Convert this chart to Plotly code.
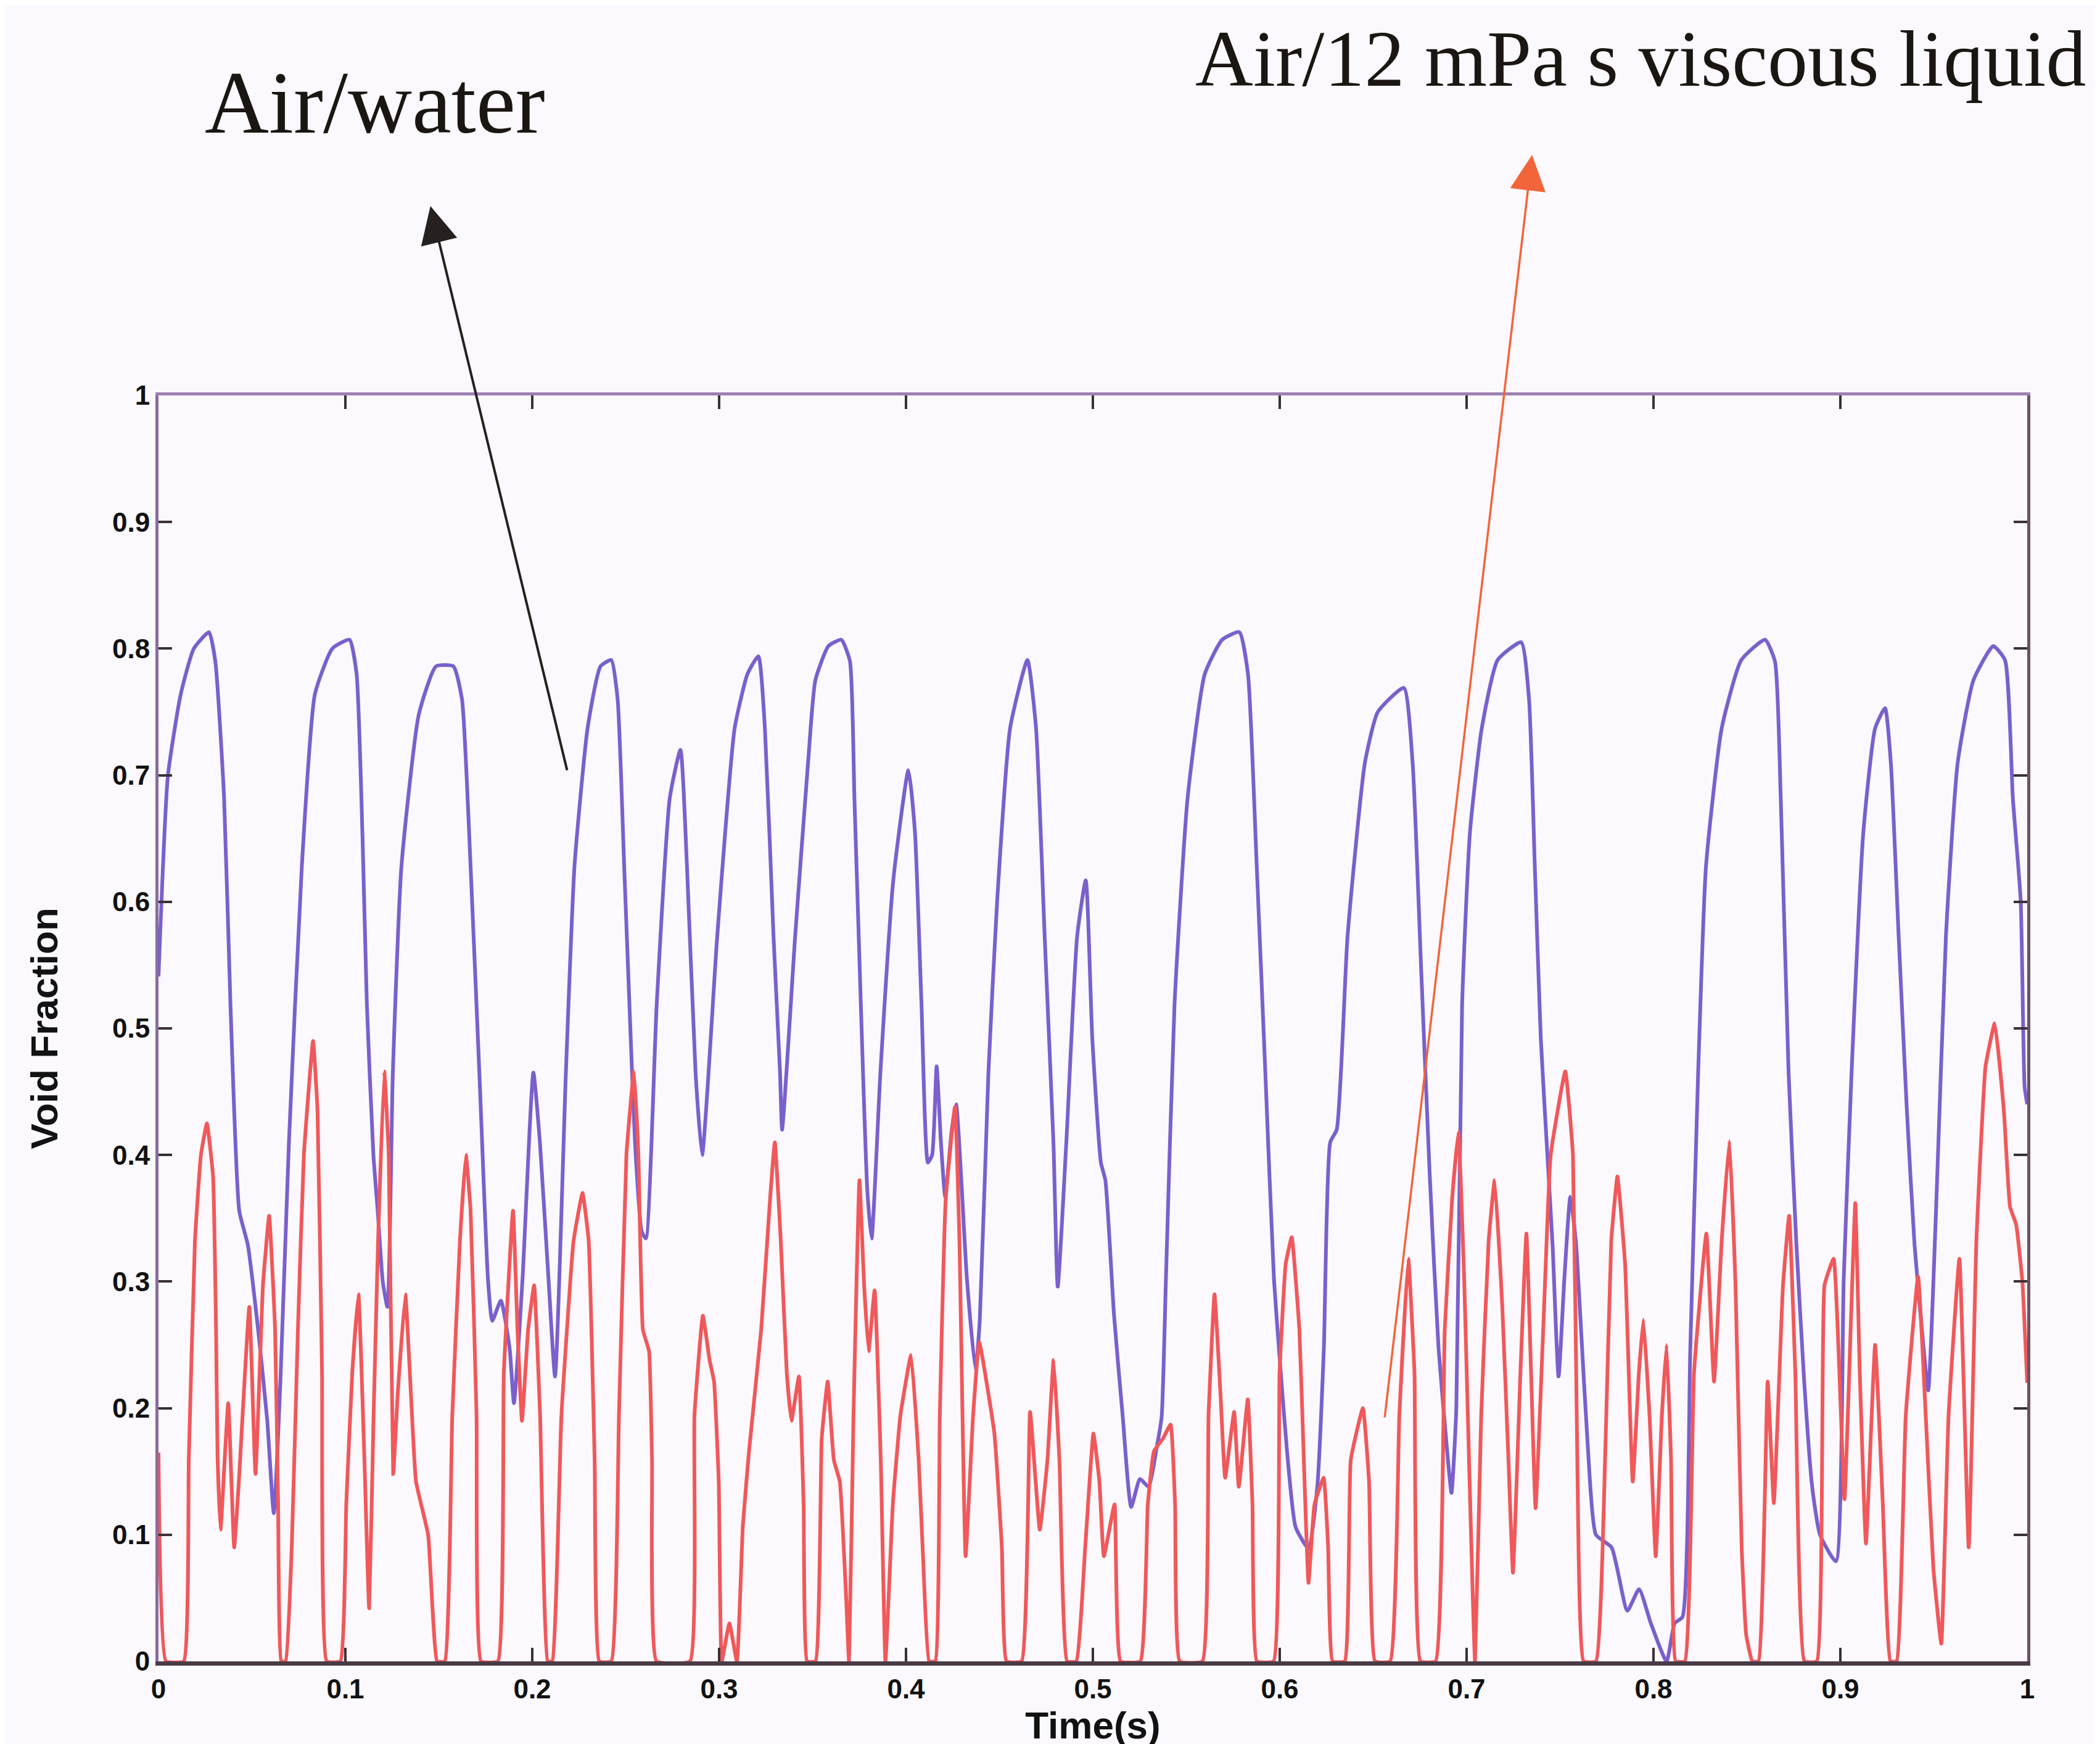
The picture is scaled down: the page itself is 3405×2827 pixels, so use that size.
import plotly.graph_objects as go

# ---------------- data ----------------
# Air/water void fraction trace (time s, void fraction)
water_t = [0.0, 0.005, 0.0119, 0.0189, 0.027, 0.0304, 0.0351, 0.0385, 0.0432, 0.0478,
           0.0536, 0.0582, 0.0617, 0.0652, 0.0698, 0.0767, 0.0837, 0.093, 0.1022, 0.106,
           0.1092, 0.1115, 0.115, 0.1173, 0.12, 0.1225, 0.1254, 0.13, 0.1393, 0.1485,
           0.1578, 0.1624, 0.167, 0.1717, 0.1763, 0.1786, 0.1832, 0.1879, 0.1902, 0.1948,
           0.2006, 0.2041, 0.2087, 0.2122, 0.218, 0.2226, 0.2296, 0.2365, 0.2423, 0.2457,
           0.2492, 0.2527, 0.255, 0.2585, 0.2608, 0.2666, 0.2736, 0.2793, 0.2828, 0.2874,
           0.2909, 0.299, 0.3083, 0.3152, 0.321, 0.3245, 0.3291, 0.3326, 0.3337, 0.3407,
           0.3476, 0.3515, 0.3585, 0.3654, 0.37, 0.3724, 0.3747, 0.377, 0.3793, 0.3816,
           0.3863, 0.3932, 0.4013, 0.4048, 0.4083, 0.4117, 0.414, 0.4164, 0.4187, 0.421,
           0.4245, 0.4268, 0.4326, 0.4372, 0.4395, 0.4441, 0.4488, 0.4557, 0.465, 0.4696,
           0.4742, 0.4789, 0.4812, 0.4858, 0.4916, 0.4962, 0.4997, 0.5043, 0.5067, 0.5113,
           0.516, 0.5205, 0.5252, 0.5298, 0.5344, 0.5368, 0.5391, 0.5437, 0.5507, 0.5599,
           0.5692, 0.5784, 0.583, 0.5877, 0.5923, 0.5969, 0.6004, 0.6039, 0.6085, 0.6155,
           0.6201, 0.6236, 0.627, 0.6305, 0.6363, 0.6456, 0.6525, 0.6664, 0.6711, 0.6757,
           0.6803, 0.685, 0.6896, 0.6919, 0.6945, 0.6976, 0.7018, 0.7081, 0.7166, 0.7292,
           0.7334, 0.7365, 0.7397, 0.7439, 0.746, 0.7492, 0.7523, 0.7555, 0.7586, 0.7608,
           0.765, 0.7692, 0.7776, 0.786, 0.7923, 0.7986, 0.807, 0.8113, 0.8155, 0.8197,
           0.8239, 0.8281, 0.8365, 0.847, 0.8597, 0.865, 0.8681, 0.8723, 0.8765, 0.8807,
           0.8849, 0.8891, 0.8976, 0.9018, 0.906, 0.9123, 0.9186, 0.9239, 0.927, 0.9312,
           0.9355, 0.9397, 0.9439, 0.947, 0.9512, 0.9565, 0.9628, 0.9712, 0.9818, 0.9881,
           0.9923, 0.9965, 0.9986, 1.0]
water_v = [0.541, 0.699, 0.764, 0.80, 0.813, 0.79, 0.682, 0.519, 0.356, 0.329,
           0.258, 0.19, 0.117, 0.22, 0.41, 0.628, 0.764, 0.80, 0.807, 0.78,
           0.65, 0.519, 0.40, 0.356, 0.30, 0.28, 0.465, 0.628, 0.748, 0.786,
           0.786, 0.76, 0.628, 0.465, 0.302, 0.269, 0.285, 0.247, 0.204, 0.302,
           0.465, 0.41, 0.302, 0.225, 0.465, 0.628, 0.737, 0.786, 0.791, 0.76,
           0.628, 0.492, 0.41, 0.34, 0.334, 0.519, 0.682, 0.72, 0.628, 0.465,
           0.40, 0.573, 0.737, 0.78, 0.794, 0.737, 0.573, 0.465, 0.42, 0.573,
           0.71, 0.775, 0.802, 0.807, 0.79, 0.682, 0.573, 0.465, 0.372, 0.334,
           0.465, 0.617, 0.704, 0.655, 0.519, 0.394, 0.40, 0.47, 0.41, 0.367,
           0.42, 0.44, 0.302, 0.23, 0.27, 0.465, 0.601, 0.737, 0.791, 0.737,
           0.573, 0.41, 0.296, 0.41, 0.573, 0.617, 0.492, 0.394, 0.38, 0.274,
           0.193, 0.122, 0.144, 0.138, 0.171, 0.193, 0.302, 0.519, 0.682, 0.78,
           0.807, 0.813, 0.78, 0.628, 0.465, 0.302, 0.231, 0.166, 0.106, 0.089,
           0.138, 0.247, 0.41, 0.42, 0.573, 0.71, 0.75, 0.769, 0.71, 0.546,
           0.383, 0.247, 0.166, 0.133, 0.20, 0.519, 0.655, 0.737, 0.791, 0.805,
           0.76, 0.628, 0.492, 0.383, 0.329, 0.225, 0.302, 0.367, 0.329, 0.274,
           0.166, 0.10, 0.09, 0.04, 0.057, 0.03, 0.0, 0.03, 0.035, 0.247,
           0.465, 0.628, 0.737, 0.791, 0.807, 0.79, 0.682, 0.465, 0.329, 0.22,
           0.138, 0.10, 0.079, 0.302, 0.465, 0.655, 0.737, 0.753, 0.71, 0.573,
           0.438, 0.329, 0.258, 0.214, 0.356, 0.573, 0.71, 0.775, 0.802, 0.791,
           0.682, 0.601, 0.454, 0.44]

# Air/12 mPa s viscous liquid void fraction trace
visc_t = [0.0, 0.004, 0.0135, 0.0162, 0.0195, 0.0227, 0.0259, 0.0292, 0.0308, 0.0316,
          0.0332, 0.0373, 0.0405, 0.043, 0.0486, 0.0519, 0.0559, 0.0592, 0.0624, 0.064,
          0.0657, 0.068, 0.0713, 0.0746, 0.0778, 0.0827, 0.0851, 0.0875, 0.09, 0.0973,
          0.1005, 0.1037, 0.107, 0.1102, 0.1127, 0.1151, 0.1175, 0.1208, 0.1232, 0.1256,
          0.128, 0.1321, 0.1345, 0.1378, 0.1443, 0.1491, 0.1532, 0.1572, 0.1613, 0.1645,
          0.167, 0.1702, 0.1726, 0.1816, 0.1848, 0.1897, 0.1921, 0.1945, 0.1978, 0.201,
          0.2042, 0.2083, 0.2107, 0.2156, 0.2221, 0.2269, 0.2302, 0.2334, 0.2359, 0.2423,
          0.2464, 0.2504, 0.2544, 0.2568, 0.2592, 0.2625, 0.2641, 0.2665, 0.2844, 0.2868,
          0.2913, 0.2949, 0.2973, 0.2998, 0.3014, 0.3055, 0.3095, 0.3127, 0.316, 0.3225,
          0.3273, 0.3298, 0.333, 0.3362, 0.3387, 0.3427, 0.3452, 0.3471, 0.3516, 0.3549,
          0.3581, 0.3614, 0.3646, 0.3678, 0.3695, 0.3719, 0.3751, 0.3776, 0.38, 0.3832,
          0.3865, 0.389, 0.393, 0.397, 0.4027, 0.4068, 0.4092, 0.4124, 0.4157, 0.4181,
          0.4213, 0.4262, 0.4286, 0.4319, 0.4359, 0.4392, 0.4473, 0.4513, 0.4538, 0.4619,
          0.4664, 0.4716, 0.4757, 0.479, 0.4821, 0.4862, 0.4911, 0.4959, 0.5003, 0.5035,
          0.5059, 0.5116, 0.5148, 0.5254, 0.5294, 0.5327, 0.5375, 0.5416, 0.544, 0.5465,
          0.5586, 0.5619, 0.5651, 0.5683, 0.5708, 0.5756, 0.5781, 0.5829, 0.5854, 0.5878,
          0.5967, 0.5999, 0.6032, 0.6064, 0.6105, 0.6129, 0.6154, 0.6186, 0.6235, 0.6259,
          0.6283, 0.6348, 0.638, 0.6445, 0.6478, 0.651, 0.6591, 0.664, 0.6688, 0.6721,
          0.6753, 0.6834, 0.6883, 0.6923, 0.6956, 0.6988, 0.7013, 0.7045, 0.7078, 0.7118,
          0.715, 0.7191, 0.7224, 0.7248, 0.7288, 0.732, 0.7345, 0.7369, 0.741, 0.745,
          0.7528, 0.7569, 0.7593, 0.7626, 0.7692, 0.7741, 0.7774, 0.7807, 0.7848, 0.7889,
          0.7922, 0.7946, 0.7979, 0.8012, 0.8045, 0.807, 0.8094, 0.8119, 0.8168, 0.8217,
          0.8283, 0.8324, 0.8365, 0.8406, 0.8439, 0.8472, 0.8496, 0.8529, 0.8562, 0.8611,
          0.8644, 0.8693, 0.8726, 0.8759, 0.8808, 0.8874, 0.8915, 0.8964, 0.9022, 0.9055,
          0.908, 0.9104, 0.9137, 0.9186, 0.9227, 0.9268, 0.9301, 0.935, 0.9416, 0.9457,
          0.9498, 0.954, 0.9579, 0.9637, 0.9687, 0.9728, 0.9777, 0.9826, 0.9875, 0.9908,
          0.9941, 0.9974, 1.0]
visc_v = [0.165, 0.0, 0.0, 0.159, 0.332, 0.40, 0.425, 0.383, 0.262, 0.162,
          0.104, 0.204, 0.09, 0.142, 0.28, 0.148, 0.297, 0.352, 0.262, 0.125,
          0.0, 0.0, 0.09, 0.262, 0.40, 0.49, 0.435, 0.228, 0.0, 0.0,
          0.125, 0.228, 0.29, 0.159, 0.042, 0.194, 0.332, 0.466, 0.40, 0.148,
          0.211, 0.29, 0.228, 0.142, 0.10, 0.0, 0.0, 0.194, 0.332, 0.40,
          0.356, 0.194, 0.0, 0.0, 0.228, 0.356, 0.262, 0.19, 0.262, 0.297,
          0.194, 0.0, 0.0, 0.194, 0.332, 0.37, 0.332, 0.159, 0.0, 0.0,
          0.194, 0.40, 0.466, 0.40, 0.262, 0.245, 0.159, 0.0, 0.0, 0.194,
          0.273, 0.238, 0.221, 0.142, 0.0, 0.03, 0.0, 0.107, 0.166, 0.262,
          0.366, 0.41, 0.332, 0.228, 0.19, 0.225, 0.125, 0.0, 0.0, 0.176,
          0.221, 0.159, 0.142, 0.056, 0.0, 0.194, 0.38, 0.297, 0.245, 0.293,
          0.159, 0.0, 0.125, 0.194, 0.242, 0.159, 0.08, 0.0, 0.0, 0.194,
          0.366, 0.438, 0.332, 0.083, 0.194, 0.252, 0.18, 0.09, 0.0, 0.0,
          0.197, 0.104, 0.159, 0.238, 0.159, 0.0, 0.0, 0.09, 0.18, 0.142,
          0.083, 0.124, 0.0, 0.0, 0.124, 0.166, 0.176, 0.187, 0.124, 0.0,
          0.0, 0.194, 0.29, 0.211, 0.145, 0.197, 0.138, 0.207, 0.124, 0.0,
          0.0, 0.228, 0.314, 0.335, 0.262, 0.159, 0.062, 0.124, 0.145, 0.09,
          0.0, 0.0, 0.159, 0.2, 0.142, 0.0, 0.0, 0.194, 0.318, 0.228,
          0.0, 0.0, 0.262, 0.366, 0.418, 0.297, 0.159, 0.0, 0.194, 0.332,
          0.38, 0.28, 0.159, 0.07, 0.228, 0.338, 0.228, 0.121, 0.262, 0.40,
          0.466, 0.40, 0.152, 0.0, 0.0, 0.159, 0.332, 0.383, 0.314, 0.142,
          0.228, 0.27, 0.194, 0.083, 0.194, 0.25, 0.159, 0.0, 0.0, 0.228,
          0.338, 0.221, 0.332, 0.411, 0.297, 0.09, 0.021, 0.0, 0.0, 0.221,
          0.125, 0.297, 0.352, 0.228, 0.0, 0.0, 0.297, 0.318, 0.128, 0.262,
          0.362, 0.228, 0.093, 0.25, 0.125, 0.0, 0.0, 0.194, 0.304, 0.194,
          0.073, 0.014, 0.194, 0.318, 0.09, 0.332, 0.47, 0.504, 0.435, 0.359,
          0.345, 0.30, 0.22]

tick_vals = [0, 0.1, 0.2, 0.3, 0.4, 0.5, 0.6, 0.7, 0.8, 0.9, 1]
tick_text = ["0", "0.1", "0.2", "0.3", "0.4", "0.5", "0.6", "0.7", "0.8", "0.9", "1"]

label_water = "Air/water"
label_visc = "Air/12 mPa s viscous liquid"
x_title = "Time(s)"
y_title = "Void Fraction"

# ---------------- styling ----------------
BG = "#fbf9fd"
WATER_COLOR = "#7a60cc"
VISC_COLOR = "#f0585a"
TICK_FONT = dict(family="Liberation Sans, Arial, sans-serif", size=44, color="#121212", weight="bold")
TITLE_FONT = dict(family="Liberation Sans, Arial, sans-serif", size=62, color="#121212", weight="bold")
SERIF = "Liberation Serif, Times New Roman, serif"

fig = go.Figure()
fig.add_trace(go.Scatter(x=water_t, y=water_v, mode="lines", name=label_water,
                         line=dict(color=WATER_COLOR, width=6, shape="spline", smoothing=0.5),
                         hoverinfo="skip"))
fig.add_trace(go.Scatter(x=visc_t, y=visc_v, mode="lines", name=label_visc,
                         line=dict(color=VISC_COLOR, width=6, shape="spline", smoothing=0.35),
                         hoverinfo="skip"))
# placeholder on the overlay axes so the top/right frame with ticks is drawn
fig.add_trace(go.Scatter(x=[None], y=[None], xaxis="x2", yaxis="y2",
                         showlegend=False, hoverinfo="skip"))

common_axis = dict(range=[0, 1], tickvals=tick_vals, ticks="inside", ticklen=22,
                   tickwidth=4, tickcolor="#3a3035", showgrid=False, zeroline=False,
                   showline=True)

fig.update_layout(
    width=3405, height=2827,
    margin=dict(l=249, r=126, t=633, b=142),
    paper_bgcolor=BG, plot_bgcolor=BG,
    showlegend=False,
    xaxis=dict(**common_axis, ticktext=tick_text, linecolor="#4a3c46", linewidth=7,
               tickfont=TICK_FONT,
               title=dict(text=x_title, font=TITLE_FONT, standoff=14)),
    yaxis=dict(**common_axis, ticktext=tick_text, linecolor="#8a6b9e", linewidth=5,
               tickfont=TICK_FONT,
               title=dict(text=y_title, font=TITLE_FONT, standoff=70)),
    xaxis2=dict(**common_axis, overlaying="x", side="top", showticklabels=False,
                linecolor="#9f80b2", linewidth=5),
    yaxis2=dict(**common_axis, overlaying="y", side="right", showticklabels=False,
                linecolor="#6b5262", linewidth=5),
)

# labels with arrows (paper coordinates: plot area spans 0..1)
fig.add_annotation(text=label_water, xref="paper", yref="paper", x=0.116, y=1.231,
                   xanchor="center", yanchor="middle", showarrow=False,
                   font=dict(family=SERIF, size=144, color="#1c1612"))
fig.add_annotation(text=label_visc, xref="paper", yref="paper", x=0.554, y=1.266,
                   xanchor="left", yanchor="middle", showarrow=False,
                   font=dict(family=SERIF, size=130, color="#1c1612"))
fig.add_annotation(text="", xref="paper", yref="paper", x=0.1455, y=1.1496,
                   ax=222, ay=916, showarrow=True, arrowhead=2, arrowsize=3,
                   arrowwidth=4, arrowcolor="#262020")
fig.add_annotation(text="", xref="paper", yref="paper", x=0.735, y=1.190,
                   ax=-239, ay=2048, showarrow=True, arrowhead=2, arrowsize=3.3,
                   arrowwidth=3.5, arrowcolor="#f2653a")

fig.write_html("out.html")
